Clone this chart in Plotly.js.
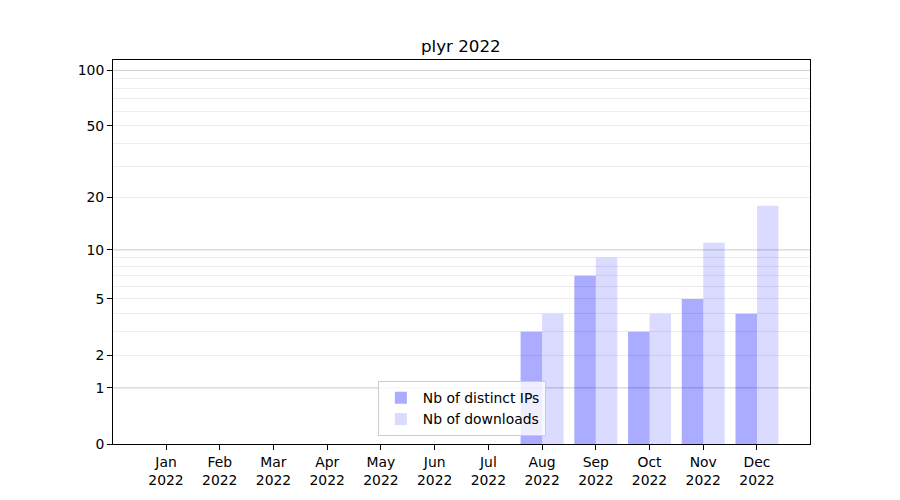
<!DOCTYPE html>
<html><head><meta charset="utf-8">
<script src="https://cdn.plot.ly/plotly-3.0.1.min.js"></script>
<style>html,body{margin:0;padding:0;background:#fff}</style>
</head><body><div id="chart" style="width:900px;height:500px"></div>
<script>
const months = ["Jan","Feb","Mar","Apr","May","Jun","Jul","Aug","Sep","Oct","Nov","Dec"];
const year = "2022";
const distinctIPs = [0,0,0,0,0,0,0,3,7,3,5,4];
const downloads   = [0,0,0,0,0,0,0,4,9,4,11,18];
const yTickValues = [0,1,2,5,10,20,50,100];
const majorGridValues = [1,10,100];
const minorGridValues = [2,3,4,5,6,7,8,9,20,30,40,50,60,70,80,90];
const shift = 1; // y axis shows log10(1 + value); bars drawn from base 1 up to 1 + value

const xLabels = months.map(m => m + "<br>" + year);
const sh = v => v + shift;
const FONT = "DejaVu Sans, sans-serif";

const traces = [
  {type:"bar", name:"Nb of distinct IPs", x:xLabels, y:distinctIPs, base:shift,
   marker:{color:"rgba(0,0,255,0.33)"}, hoverinfo:"skip"},
  {type:"bar", name:"Nb of downloads", x:xLabels, y:downloads, base:shift,
   marker:{color:"rgba(0,0,255,0.14)"}, hoverinfo:"skip"}
];

const shapes = majorGridValues.map(v => ({
  type:"line", xref:"paper", yref:"y", x0:0, x1:1, y0:sh(v), y1:sh(v),
  line:{color:"#cbcbcb", width:1}, layer:"below"
}));

const layout = {
  width:900, height:500,
  margin:{l:113, r:90, t:60, b:56},
  paper_bgcolor:"#fff", plot_bgcolor:"#fff",
  font:{family:FONT, size:13.9, color:"#000"},
  title:{text:"plyr 2022", font:{family:FONT, size:16.7, color:"#000"},
         x:0.512, xanchor:"center", y:0.908, yanchor:"middle", yref:"container"},
  barmode:"group", bargap:0.2, bargroupgap:0,
  showlegend:true,
  legend:{x:0.38, y:0.02, xanchor:"left", yanchor:"bottom",
          bgcolor:"rgba(255,255,255,0.8)", bordercolor:"#cccccc", borderwidth:1,
          font:{family:FONT, size:13.9, color:"#000"}, tracegroupgap:0, itemwidth:34},
  xaxis:{type:"category", range:[-0.987, 11.987], showgrid:false, zeroline:false,
         showline:true, mirror:true, linecolor:"#000", linewidth:1,
         ticks:"outside", ticklen:5, tickwidth:1, tickcolor:"#000",
         tickfont:{family:FONT, size:13.9, color:"#000"}},
  yaxis:{type:"log", range:[0, 2.06], zeroline:false,
         showline:true, mirror:true, linecolor:"#000", linewidth:1,
         tickmode:"array", tickvals:yTickValues.map(sh), ticktext:yTickValues.map(String),
         showgrid:false,
         ticks:"outside", ticklen:5, tickwidth:1, tickcolor:"#000",
         tickfont:{family:FONT, size:13.9, color:"#000"},
         minor:{tickmode:"array", tickvals:minorGridValues.map(sh), showgrid:true,
                gridcolor:"#ececec", gridwidth:1, ticks:""}},
  shapes:shapes
};

Plotly.newPlot("chart", traces, layout, {displayModeBar:false, staticPlot:true});
</script></body></html>
